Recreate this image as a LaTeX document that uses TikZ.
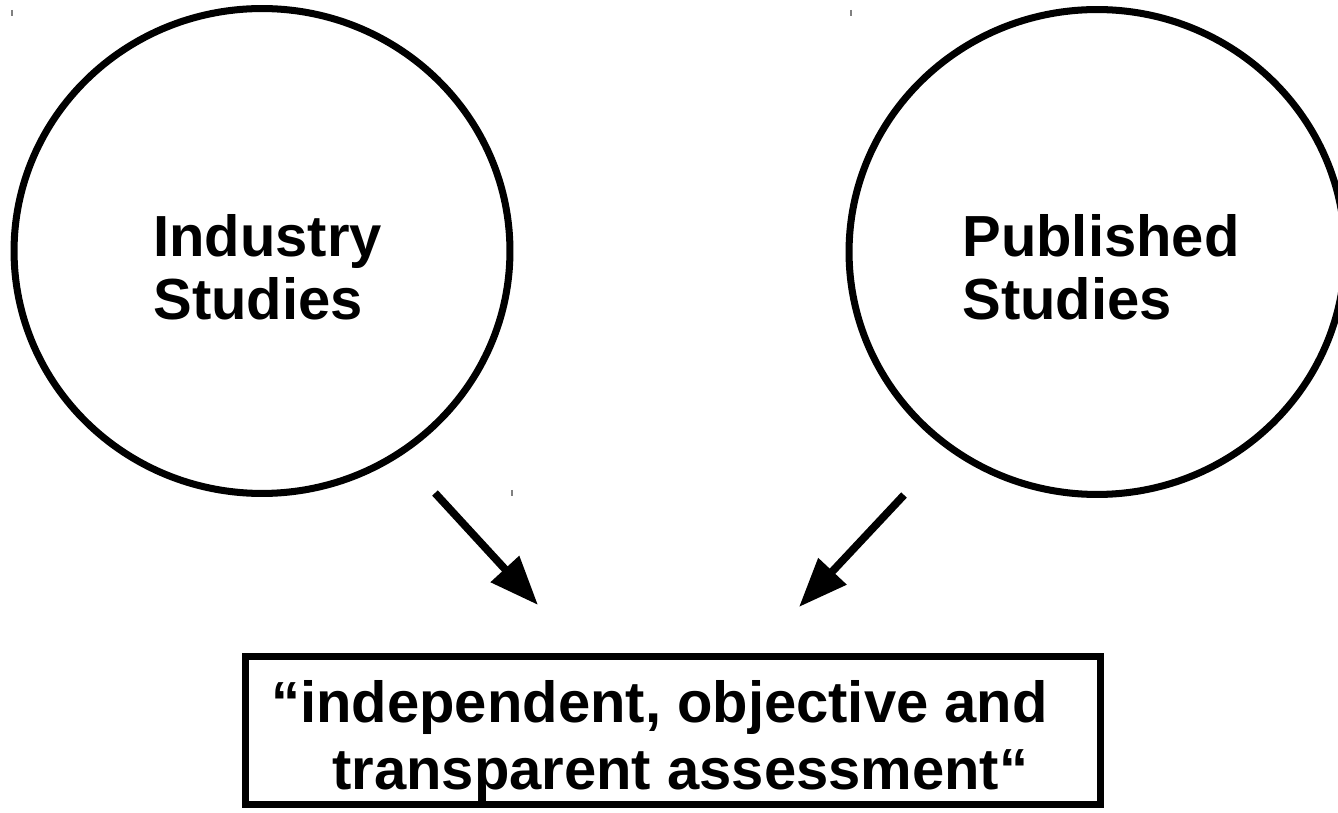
\documentclass[tikz,border=0pt]{standalone}
\usepackage{fontspec}
\setmainfont{Liberation Sans}
\usetikzlibrary{shapes.geometric,arrows.meta}
\begin{document}
\begin{tikzpicture}
[x=0.02cm,y=-0.02cm,
 studycircle/.style={ellipse,draw,line width=4pt,inner sep=0pt,minimum width=9.92cm,minimum height=9.7cm},
 studytext/.style={font=\fontsize{33}{36}\selectfont\bfseries,align=left,inner sep=0pt,anchor=north west},
 verdictbox/.style={rectangle,draw,line width=4pt,minimum width=17.1cm,minimum height=2.96cm,inner sep=0pt},
 verdicttext/.style={font=\fontsize{33}{38}\selectfont\bfseries,align=left,inner sep=0pt,anchor=north west},
 feedarrow/.style={line width=4.4pt,-{Triangle[length=0.98cm,width=0.74cm]}},
 cropmark/.style={gray,line width=0.8pt}]
\useasboundingbox (0,0) rectangle (1338,813);
%% the two sources
\node[studycircle] (industry) at (262,251) {};
\node[studycircle] (published) at (1097,252) {};
\node[studytext] (industrytext) at (153,214) {Industry\\Studies};
\node[studytext] (publishedtext) at (962,214) {Published\\Studies};
%% the assessment
\node[verdictbox] (verdict) at (673,730.5) {};
\node[verdicttext] (verdicttext) at (271,680)
  {“independent, objective and\\\hspace*{1.22cm}transparent assessment“};
%% arrows
\coordinate (indfrom) at (435,493);
\coordinate (indto) at (538,605);
\coordinate (pubfrom) at (904,495);
\coordinate (pubto) at (799,607);
\draw[feedarrow] (indfrom) -- (indto);
\draw[feedarrow] (pubfrom) -- (pubto);
%% small marks
\foreach \x/\y in {12/10, 851/10, 512/490} {
  \draw[cropmark] (\x,\y) -- (\x,\y+6);
}
\end{tikzpicture}
\end{document}
